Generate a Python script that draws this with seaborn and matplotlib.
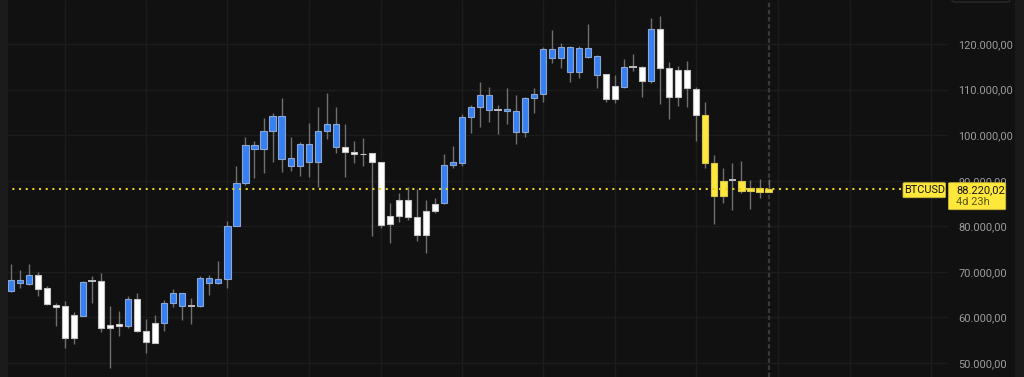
import matplotlib
matplotlib.use("Agg")
import matplotlib.pyplot as plt
import numpy as np
import pandas as pd
import seaborn as sns
from matplotlib.patches import Rectangle, FancyBboxPatch

# ---------------- data (weekly BTCUSD candles) ----------------
opens = [65870, 67500, 67350, 69320, 66400, 62740, 62450, 60540, 60390, 68000,
         68000, 58420, 58500, 58130, 63990, 56960, 58790, 58720, 63240, 62520,
         62520, 62520, 67500, 67500, 68440, 80130, 89570, 96960, 96960, 100850,
         94830, 93230, 93230, 94180, 94180, 100850, 97340, 97470, 96300, 95930,
         96020, 94050, 82260, 85770, 85770, 81980, 83430, 84900, 85050, 93450,
         93960, 103920, 106240, 105450, 105580, 105300, 100760, 100760, 108090, 108960,
         116990, 116990, 113920, 113920, 117210, 113200, 113350, 110850, 110630, 115020,
         115020, 111950, 123290, 114840, 114300, 114300, 110190, 104420, 93830, 86650,
         90100, 87810, 88340, 88340, 87600]
highs = [71730, 70420, 71730, 69980, 66900, 63240, 63610, 61130, 68000, 69100,
         69690, 62520, 61490, 64710, 65270, 59600, 60480, 63830, 66250, 65370,
         64210, 69100, 69250, 72340, 81270, 93230, 99530, 98780, 103700, 104800,
         108090, 99660, 98560, 102600, 106110, 109180, 106240, 102380, 98720, 99310,
         96150, 94220, 85050, 87240, 88560, 88120, 85770, 86140, 95820, 97690,
         104640, 106550, 111730, 110630, 106680, 110350, 108810, 108440, 110410, 119280,
         123070, 120150, 119560, 119560, 124390, 117640, 113420, 113200, 116640, 117810,
         115170, 125640, 126140, 115990, 115280, 116270, 110630, 107210, 95650, 92860,
         93830, 94400, 90160, 90310, 90310]
lows = [65590, 66470, 67120, 64780, 62740, 58200, 53240, 54110, 60320, 63110,
        56750, 48850, 55930, 57620, 56920, 52270, 54290, 57100, 62360, 59450,
        58570, 62230, 64930, 67280, 66530, 80070, 89070, 90530, 91760, 94180,
        91980, 92130, 91040, 90880, 88690, 99160, 96020, 90880, 93830, 93230,
        77940, 79700, 76400, 81010, 81380, 76840, 74210, 82850, 84900, 92730,
        93230, 100540, 101860, 102890, 100250, 102450, 97990, 99530, 104930, 107340,
        115770, 114670, 111730, 112470, 116930, 110410, 107210, 107120, 110280, 114140,
        108440, 111510, 106770, 103480, 106400, 106240, 98720, 92730, 80440, 85050,
        83580, 87380, 83830, 86140, 87530]
closes = [68220, 68290, 69320, 66250, 62890, 62230, 55430, 55430, 67850, 68000,
          57760, 57760, 58130, 63990, 56960, 54550, 54460, 63240, 65300, 65300,
          62520, 68660, 68730, 68440, 80130, 89570, 97780, 97780, 100910, 104200,
          104200, 94920, 98060, 98060, 100980, 102380, 102380, 96240, 95800, 95800,
          94050, 80290, 80440, 82260, 81980, 78090, 78090, 83430, 93450, 94050,
          103920, 106180, 108810, 108810, 105580, 105670, 105300, 108090, 108960, 118900,
          118900, 119280, 119280, 119060, 119060, 117370, 107870, 107870, 115020, 115020,
          111950, 123290, 114840, 108440, 108440, 110240, 104420, 93830, 86650, 90010,
          90100, 90010, 87810, 87600, 88220.02]
highlighted_last = 8          # the most recent candles shown in yellow
price_ticks = [50000, 60000, 70000, 80000, 90000, 100000, 110000, 120000]
period_marks = [6, 15, 24, 33, 41, 50, 59, 67, 76, 85, 93, 102]   # vertical grid (period starts)
symbol = "BTCUSD"
last_price = 88220.02
countdown = "4d 23h"

df = pd.DataFrame({"open": opens, "high": highs, "low": lows, "close": closes})
df["idx"] = np.arange(len(df))
n = len(df)

# ---------------- style ----------------
BG = "#111111"
GRID = "#1c1c1c"
BLUE = "#3580f2"
WHITE = "#ffffff"
YELLOW = "#ffe83b"
WICK = "#6f6f6f"

sns.set_theme(style="dark", rc={"axes.facecolor": BG, "figure.facecolor": BG,
                                "grid.color": GRID, "axes.edgecolor": BG})
plt.rcParams["font.family"] = ["Roboto", "DejaVu Sans"]

W, H = 1024, 377
fig = plt.figure(figsize=(W / 100, H / 100), dpi=100)
fig.patch.set_facecolor(BG)
ax = fig.add_axes([0, 0, 948 / W, 1])
ax.set_facecolor(BG)

# axes limits chosen to match the picture's scale
ax.set_xlim(-1.22, 103.9)
ax.set_ylim(46940, 129654)

# grid
ax.set_yticks(price_ticks)
ax.set_xticks(period_marks)
ax.grid(True, color=GRID, linewidth=1)
ax.tick_params(axis="x", length=0, labelbottom=False)
ax.yaxis.tick_right()
fmt = lambda v: f"{v:,.2f}".replace(",", "X").replace(".", ",").replace("X", ".")
ax.set_yticklabels([fmt(v) for v in price_ticks])
ax.tick_params(axis="y", length=0, pad=7.5, labelsize=7.9, colors="#9c9c9c")
for s in ax.spines.values():
    s.set_visible(False)

# current-candle vertical marker
ax.axvline(n - 1, color="#3a3a3a", linewidth=1.6, linestyle=(0, (2, 1.2)), zorder=1)

# wicks
ax.vlines(df["idx"], df["low"], df["high"], color=WICK, linewidth=1, zorder=2)

# bodies
body_w = 0.68
for i, r in df.iterrows():
    o, c = r["open"], r["close"]
    if o == c:
        ax.hlines(o, i - 0.42, i + 0.42, color="#bdbdbd", linewidth=1.4, zorder=3)
        continue
    if i >= n - highlighted_last:
        fc, ec = YELLOW, "#d8c64a"
    elif c > o:
        fc, ec = BLUE, "#8ea6cf"
    else:
        fc, ec = WHITE, "#c4c4c4"
    ax.bar(i, abs(c - o), bottom=min(o, c), width=body_w, color=fc,
           edgecolor=ec, linewidth=0.8, zorder=3)

# last price dotted line
ax.plot([-2, 102.5], [last_price, last_price], color="#e4cf1c", linewidth=1.5,
        linestyle=(0, (1, 2.2)), zorder=4, clip_on=False)

# ---------------- price tags (figure pixel coords) ----------------
def fx(px):
    return px / W

def fy(py):
    return 1 - py / H

# BTCUSD tag
fig.add_artist(FancyBboxPatch((fx(903), fy(197.7)), fx(945.5) - fx(903), fy(182.7) - fy(197.7),
                              boxstyle="round,pad=0,rounding_size=0.002",
                              transform=fig.transFigure, facecolor=YELLOW,
                              edgecolor="#c9b832", linewidth=0.6, zorder=5))
fig.text(fx(924.5), fy(190.3), symbol, ha="center", va="center", fontsize=7.9,
         color="#161616", zorder=6)
# price / countdown tag
fig.add_artist(FancyBboxPatch((fx(948.5), fy(209.7)), fx(1005.7) - fx(948.5), fy(182.7) - fy(209.7),
                              boxstyle="round,pad=0,rounding_size=0.002",
                              transform=fig.transFigure, facecolor=YELLOW,
                              edgecolor="#c9b832", linewidth=0.6, zorder=5))
fig.text(fx(956.3), fy(190.3), fmt(last_price), ha="left", va="center", fontsize=7.9,
         color="#161616", zorder=6)
fig.text(fx(956.3), fy(202.2), countdown, ha="left", va="center", fontsize=7.9,
         color="#5e5616", zorder=6)

# side strips / frame details
fig.add_artist(Rectangle((0, 0), fx(8), 1, transform=fig.transFigure,
                         facecolor="#1b1b1b", edgecolor="none", zorder=0.5))
fig.add_artist(Rectangle((fx(1015), 0), fx(9), 1, transform=fig.transFigure,
                         facecolor="#1a1a1a", edgecolor="none", zorder=0.5))
fig.add_artist(FancyBboxPatch((fx(952), fy(2)), fx(58), 0.05, transform=fig.transFigure,
                              boxstyle="round,pad=0,rounding_size=0.004",
                              facecolor="none", edgecolor="#2e2e2e", linewidth=0.8, zorder=0.6))

fig.savefig("out.png", dpi=100, facecolor=BG)
